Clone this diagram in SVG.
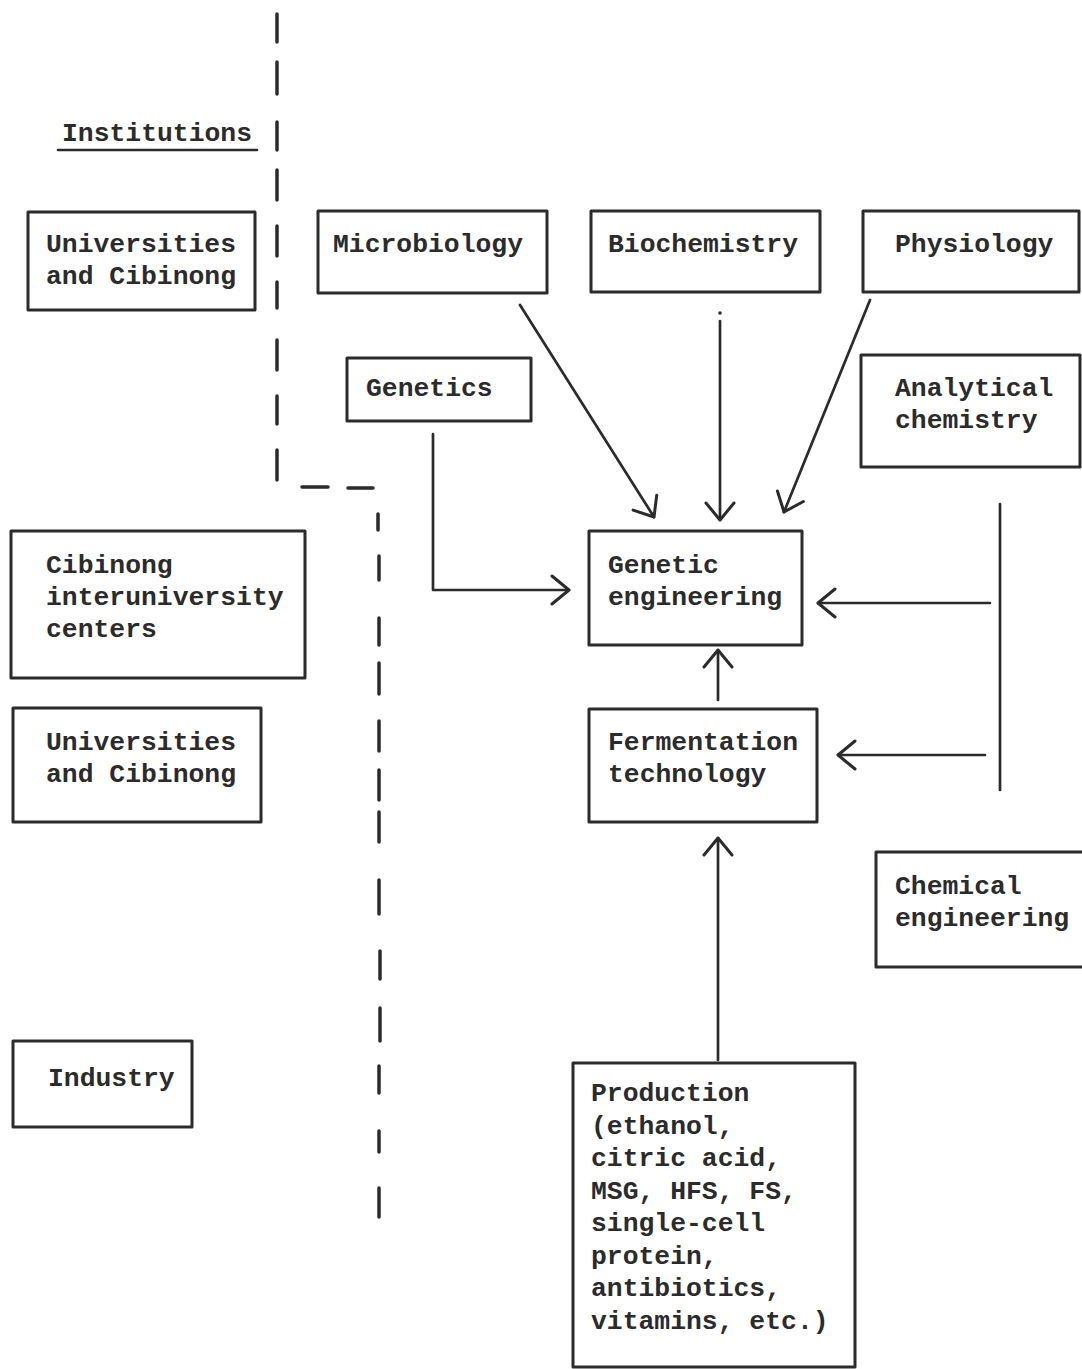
<svg xmlns="http://www.w3.org/2000/svg" width="1082" height="1369" viewBox="0 0 1082 1369">
<style>
.box{fill:none;stroke:#2b2b2b;stroke-width:3;stroke-linejoin:round}
.t{font-family:"Liberation Mono","DejaVu Sans Mono",monospace;font-weight:bold;font-size:26.4px;fill:#2b2b2b}
.ln{fill:none;stroke:#2b2b2b;stroke-width:2.7;stroke-linecap:round;stroke-linejoin:round}
.dash{fill:none;stroke:#2b2b2b;stroke-width:3.5;stroke-linecap:round}
</style>
<defs>
<marker id="ah" markerUnits="userSpaceOnUse" viewBox="-20 -16 24 32" refX="0" refY="0" markerWidth="24" markerHeight="32" orient="auto">
<path d="M-17,-14 L0,0 L-17,14" fill="none" stroke="#2b2b2b" stroke-width="3" stroke-linecap="round" stroke-linejoin="round"/>
</marker>
</defs>
<rect width="1082" height="1369" fill="#ffffff"/>

<g id="divider">
<path class="dash" d="M277,14 V42 M277,62 V94 M277,122 V150 M277,170 V200 M277,226 V256 M277,282 V308 M277,340 V370 M277,396 V424 M277,450 V480"/>
<path class="dash" d="M302,487 H328 M348,488 H373"/>
<path class="dash" d="M378,514 V530 M379,556 V580 M379,618 V645 M379,663 V694 M379,721 V751 M379,770 V800 M379,812 V842 M379,880 V914 M380,951 V979 M380,1008 V1041 M379,1066 V1093 M379,1131 V1152 M379,1188 V1217"/>
</g>

<g id="label-institutions">
<text class="t" x="62" y="141">Institutions</text>
<path class="ln" d="M58,150 H257"/>
</g>

<g id="node-univ-top">
<rect class="box" x="28" y="212" width="227" height="98"/>
<text class="t" x="46" y="252">Universities</text>
<text class="t" x="46" y="284">and Cibinong</text>
</g>

<g id="node-microbiology">
<rect class="box" x="318" y="211" width="229" height="82"/>
<text class="t" x="333" y="252">Microbiology</text>
</g>

<g id="node-biochemistry">
<rect class="box" x="591" y="211" width="229" height="81"/>
<text class="t" x="608" y="252">Biochemistry</text>
</g>

<g id="node-physiology">
<rect class="box" x="863" y="211" width="216" height="81"/>
<text class="t" x="895" y="252">Physiology</text>
</g>

<g id="node-genetics">
<rect class="box" x="347" y="358" width="184" height="63"/>
<text class="t" x="366" y="396">Genetics</text>
</g>

<g id="node-analytical">
<rect class="box" x="861" y="355" width="219" height="112"/>
<text class="t" x="895" y="396">Analytical</text>
<text class="t" x="895" y="428">chemistry</text>
</g>

<g id="node-cibinong-centers">
<rect class="box" x="11" y="531" width="294" height="147"/>
<text class="t" x="46" y="573">Cibinong</text>
<text class="t" x="46" y="605">interuniversity</text>
<text class="t" x="46" y="637">centers</text>
</g>

<g id="node-genetic-engineering">
<rect class="box" x="589" y="531" width="213" height="114"/>
<text class="t" x="608" y="573">Genetic</text>
<text class="t" x="608" y="605">engineering</text>
</g>

<g id="node-univ-bottom">
<rect class="box" x="13" y="708" width="248" height="114"/>
<text class="t" x="46" y="750">Universities</text>
<text class="t" x="46" y="782">and Cibinong</text>
</g>

<g id="node-fermentation">
<rect class="box" x="589" y="709" width="228" height="113"/>
<text class="t" x="608" y="750">Fermentation</text>
<text class="t" x="608" y="782">technology</text>
</g>

<g id="node-chemical-engineering">
<rect class="box" x="876" y="852" width="215" height="115"/>
<text class="t" x="895" y="894">Chemical</text>
<text class="t" x="895" y="926">engineering</text>
</g>

<g id="node-industry">
<rect class="box" x="13" y="1041" width="179" height="86"/>
<text class="t" x="48" y="1086">Industry</text>
</g>

<g id="node-production">
<rect class="box" x="573" y="1063" width="282" height="304"/>
<text class="t" x="591" y="1101">Production</text>
<text class="t" x="591" y="1134">(ethanol,</text>
<text class="t" x="591" y="1166">citric acid,</text>
<text class="t" x="591" y="1199">MSG, HFS, FS,</text>
<text class="t" x="591" y="1231">single-cell</text>
<text class="t" x="591" y="1264">protein,</text>
<text class="t" x="591" y="1296">antibiotics,</text>
<text class="t" x="591" y="1329">vitamins, etc.)</text>
</g>

<g id="connectors">
<path class="ln" d="M520,305 L654,517" marker-end="url(#ah)"/>
<circle cx="720" cy="313" r="1.8" fill="#2b2b2b"/>
<path class="ln" d="M720,321 V520" marker-end="url(#ah)"/>
<path class="ln" d="M870,300 L784,512" marker-end="url(#ah)" stroke-width="3"/>
<path class="ln" d="M433,434 V590 H569" marker-end="url(#ah)"/>
<path class="ln" d="M1000,504 V790"/>
<path class="ln" d="M990,603 H818" marker-end="url(#ah)" stroke-width="3"/>
<path class="ln" d="M985,755 H838" marker-end="url(#ah)"/>
<path class="ln" d="M718,700 V650" marker-end="url(#ah)"/>
<path class="ln" d="M718,1060 V838" marker-end="url(#ah)"/>
</g>
</svg>
